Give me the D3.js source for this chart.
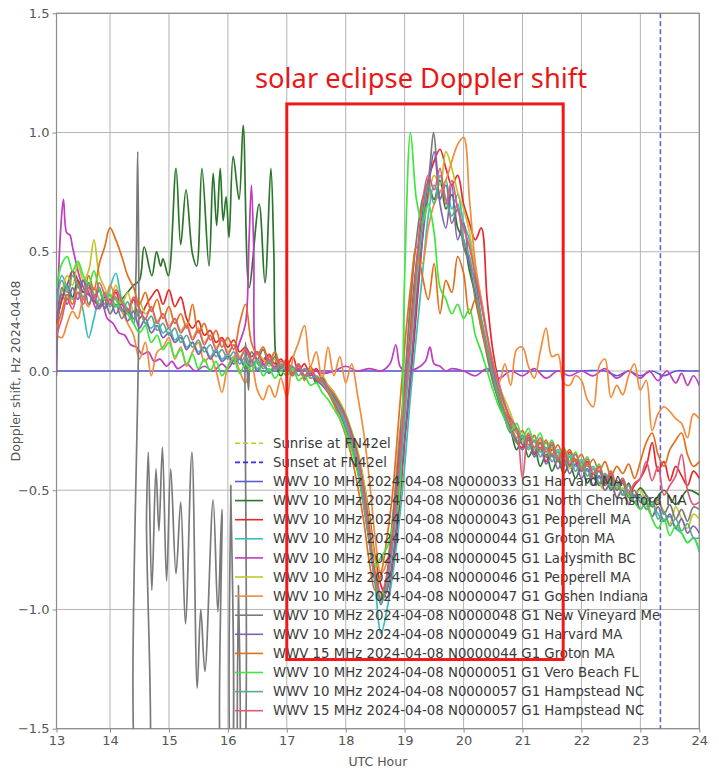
<!DOCTYPE html>
<html>
<head>
<meta charset="utf-8">
<script src="https://cdn.jsdelivr.net/npm/d3@7"></script>
<style>
body { margin: 0; background: #fff; }
svg { display: block; font-family: "DejaVu Sans", sans-serif; }
</style>
</head>
<body>
<svg id="svg" width="719" height="773"></svg>
<script>
// sample grid for the 0.1 h series, 13.0 .. 24.0
var hours = d3.range(0, 111).map(function(i) { return 13 + i / 10; });

var xTicks = [13, 14, 15, 16, 17, 18, 19, 20, 21, 22, 23, 24];
var yTicks = [-1.5, -1.0, -0.5, 0.0, 0.5, 1.0, 1.5];

var sunsetHour = 23.34;

// eclipse annotation box (hours, Hz)
var boxHours = [17.0, 21.69];
var boxHz = [-1.21, 1.12];
var boxLabel = "solar eclipse Doppler shift";

var legendNames = [
    "Sunrise at FN42el",
    "Sunset at FN42el",
    "WWV 10 MHz 2024-04-08 N0000033 G1 Harvard MA",
    "WWV 10 MHz 2024-04-08 N0000036 G1 North Chelmsford MA",
    "WWV 10 MHz 2024-04-08 N0000043 G1 Pepperell MA",
    "WWV 10 MHz 2024-04-08 N0000044 G1 Groton MA",
    "WWV 10 MHz 2024-04-08 N0000045 G1 Ladysmith BC",
    "WWV 10 MHz 2024-04-08 N0000046 G1 Pepperell MA",
    "WWV 10 MHz 2024-04-08 N0000047 G1 Goshen Indiana",
    "WWV 10 MHz 2024-04-08 N0000048 G1 New Vineyard Me",
    "WWV 10 MHz 2024-04-08 N0000049 G1 Harvard MA",
    "WWV 15 MHz 2024-04-08 N0000044 G1 Groton MA",
    "WWV 10 MHz 2024-04-08 N0000051 G1 Vero Beach FL",
    "WWV 10 MHz 2024-04-08 N0000057 G1 Hampstead NC",
    "WWV 15 MHz 2024-04-08 N0000057 G1 Hampstead NC"
];
var legendColors = ["#c8c81e", "#3232e6", "#5a5ad2", "#2c762c", "#e8262b", "#3cbcbc",
    "#c03cc0", "#c4c42c", "#f28c3c", "#7a7a7a", "#7e62b2", "#e0701e",
    "#3ce83c", "#5ea88c", "#e05a78"];

// N0000033 Harvard MA, [hour, Hz]
var harvard33 = [[13.0, 0], [14.0, 0], [15.0, 0], [16.0, 0], [17.0, 0], [18.0, 0], [19.0, 0],
    [20.0, 0], [21.0, 0], [22.0, 0], [22.4, 0], [22.6, -0.02], [22.8, 0], [23.0, -0.02],
    [23.2, 0], [23.4, -0.02], [23.6, 0], [23.8, 0], [24.0, 0]];

// N0000036 North Chelmsford MA, [hour, Hz]
var chelmsford36 = [[13.0,0.2],[13.1,0.3],[13.2,0.36],[13.3,0.31],[13.4,0.38],[13.5,0.33],[13.6,0.37],
    [13.7,0.30],[13.8,0.34],[13.9,0.28],[14.0,0.32],[14.1,0.27],[14.2,0.30],[14.3,0.33],[14.4,0.36],
    [14.5,0.38],[14.58,0.52],[14.71,0.40],[14.79,0.50],[14.86,0.44],[14.9,0.47],[14.99,0.40],
    [15.12,0.85],[15.2,0.53],[15.29,0.76],[15.4,0.49],[15.47,0.44],[15.56,0.85],[15.68,0.44],
    [15.75,0.83],[15.81,0.61],[15.87,0.85],[15.92,0.63],[15.97,0.73],[16.02,0.56],[16.09,0.90],
    [16.19,0.72],[16.26,1.03],[16.36,0.35],[16.53,0.70],[16.63,0.37],[16.73,0.85],[16.78,0.5],
    [16.83,0.02],[16.9,-0.02],[17.0,0.02],[17.1,-0.01],[17.2,0.02],[17.3,-0.02],[17.4,0.0],
    [17.5,-0.05],[17.6,-0.03],[17.7,-0.08],[17.8,-0.11],[17.9,-0.16],[18.0,-0.22],[18.1,-0.3],
    [18.2,-0.4],[18.3,-0.52],[18.4,-0.7],[18.5,-0.85],[18.6,-0.95],[18.7,-0.88],[18.8,-0.66],
    [18.9,-0.4],[19.0,-0.1],[19.1,0.2],[19.2,0.45],[19.3,0.65],[19.4,0.78],[19.5,0.72],[19.6,0.80],
    [19.7,0.68],[19.8,0.74],[19.9,0.60],[20.0,0.55],[20.1,0.42],[20.2,0.32],[20.3,0.2],[20.4,0.08],
    [20.5,-0.04],[20.6,-0.13],[20.7,-0.2],[20.8,-0.25],[20.9,-0.33],[21.0,-0.28],[21.1,-0.36],
    [21.2,-0.32],[21.3,-0.4],[21.4,-0.35],[21.5,-0.42],[21.6,-0.37],[21.7,-0.43],[21.8,-0.39],
    [21.9,-0.45],[22.0,-0.4],[22.1,-0.47],[22.2,-0.43],[22.3,-0.48],[22.4,-0.44],[22.5,-0.5],
    [22.6,-0.46],[22.7,-0.52],[22.8,-0.47],[22.9,-0.53],[23.0,-0.49],[23.2,-0.55],[23.4,-0.5],
    [23.6,-0.56],[23.8,-0.5],[24.0,-0.52]];

// N0000043 Pepperell MA, on the 0.1 h grid
var pepperell43 = [
    0.20,0.30,0.36,0.42,0.38,0.33,0.36,0.30,0.27,0.31,
    0.28,0.33,0.26,0.24,0.30,0.22,0.27,0.31,0.34,0.28,
    0.34,0.27,0.31,0.22,0.18,0.21,0.15,0.17,0.12,0.14,
    0.10,0.13,0.08,0.10,0.06,0.08,0.04,0.07,0.03,0.05,
    0.02,0.06,0.00,0.03,-0.02,0.01,-0.04,-0.06,-0.09,-0.14,
    -0.20,-0.26,-0.34,-0.46,-0.60,-0.78,-0.90,-0.95,-0.82,-0.60,
    -0.30,-0.05,0.25,0.55,0.80,0.88,0.93,0.85,0.78,0.82,
    0.70,0.62,0.55,0.60,0.30,0.08,-0.05,-0.14,-0.22,-0.30,
    -0.32,-0.28,-0.35,-0.30,-0.38,-0.33,-0.36,-0.40,-0.34,-0.38,
    -0.42,-0.38,-0.45,-0.40,-0.47,-0.43,-0.50,-0.46,-0.52,-0.48,
    -0.45,-0.40,-0.30,-0.42,-0.38,-0.46,-0.40,-0.44,-0.48,-0.42,
    -0.45];

// N0000044 Groton MA
var groton44 = [
    0.30,0.40,0.35,0.30,0.33,0.25,0.14,0.22,0.30,0.27,
    0.35,0.41,0.30,0.26,0.22,0.25,0.20,0.18,0.21,0.16,
    0.18,0.13,0.15,0.10,0.12,0.08,0.10,0.06,0.09,0.05,
    0.07,0.04,0.06,0.02,0.05,0.01,0.03,0.00,0.02,0.01,
    0.03,-0.01,0.02,-0.02,0.00,-0.03,-0.05,-0.08,-0.12,-0.16,
    -0.22,-0.30,-0.38,-0.50,-0.68,-0.90,-1.10,-1.00,-0.85,-0.65,
    -0.40,-0.10,0.15,0.40,0.65,0.78,0.72,0.80,0.68,0.74,
    0.62,0.55,0.40,0.30,0.15,0.02,-0.08,-0.15,-0.20,-0.26,
    -0.28,-0.32,-0.27,-0.34,-0.30,-0.36,-0.33,-0.38,-0.35,-0.40,
    -0.37,-0.42,-0.40,-0.45,-0.43,-0.48,-0.46,-0.52,-0.50,-0.55,
    -0.53,-0.58,-0.56,-0.60,-0.63,-0.61,-0.66,-0.68,-0.72,-0.70,
    -0.76];

// N0000045 Ladysmith BC, [hour, Hz]
var ladysmith45 = [[13.0,0],[13.03,0.35],[13.08,0.6],[13.13,0.72],[13.19,0.58],[13.25,0.57],
    [13.3,0.52],[13.38,0.44],[13.45,0.38],[13.55,0.33],[13.65,0.31],[13.75,0.26],[13.85,0.28],
    [13.95,0.22],[14.05,0.2],[14.15,0.16],[14.25,0.15],[14.35,0.11],[14.45,0.1],[14.55,0.07],
    [14.65,0.08],[14.75,0.04],[14.85,0.05],[14.96,0.02],[15.05,0.04],[15.15,0.01],[15.3,0.03],
    [15.45,0.0],[15.6,0.02],[15.75,0.0],[15.9,0.03],[16.0,0.01],[16.1,0.05],[16.2,0.12],
    [16.3,0.2],[16.36,0.55],[16.4,0.78],[16.44,0.5],[16.48,0.05],[16.55,0.02],[16.65,0.06],
    [16.8,0.01],[17.0,0.03],[17.2,0.0],[17.4,0.01],[17.6,-0.01],[17.8,0.0],[18.0,0.02],[18.2,0.0],
    [18.4,0.01],[18.6,0.0],[18.75,0.03],[18.85,0.11],[18.92,0.02],[19.0,0.0],[19.2,0.01],
    [19.35,0.04],[19.43,0.1],[19.5,0.03],[19.6,0.02],[19.7,0.0],[19.8,0.01],[20.0,0.0],
    [20.2,-0.02],[20.4,0.01],[20.6,-0.03],[20.8,0.0],[21.0,-0.02],[21.2,0.01],[21.4,-0.03],
    [21.6,0.0],[21.8,-0.02],[22.0,0.0],[22.2,-0.02],[22.4,0.01],[22.6,-0.03],[22.8,0.0],
    [23.0,-0.03],[23.15,0.0],[23.3,-0.04],[23.45,0.0],[23.6,-0.05],[23.7,-0.01],[23.8,-0.06],
    [23.9,-0.02],[24.0,-0.06]];

// N0000046 Pepperell MA
var pepperell46 = [
    0.25,0.33,0.40,0.36,0.45,0.38,0.42,0.55,0.40,0.35,
    0.30,0.36,0.28,0.33,0.25,0.29,0.24,0.26,0.21,0.24,
    0.19,0.22,0.17,0.20,0.14,0.18,0.12,0.15,0.10,0.13,
    0.08,0.11,0.06,0.09,0.04,0.07,0.05,0.02,0.05,0.01,
    0.03,0.00,0.02,-0.02,0.01,-0.03,-0.02,-0.06,-0.09,-0.13,
    -0.18,-0.25,-0.33,-0.45,-0.62,-0.80,-0.95,-0.88,-0.70,-0.45,
    -0.15,0.10,0.35,0.60,0.72,0.82,0.78,0.92,0.85,0.75,
    0.68,0.58,0.42,0.28,0.14,0.04,-0.06,-0.12,-0.18,-0.25,
    -0.30,-0.26,-0.33,-0.29,-0.36,-0.32,-0.38,-0.35,-0.41,-0.37,
    -0.40,-0.44,-0.41,-0.47,-0.50,-0.46,-0.53,-0.49,-0.55,-0.52,
    -0.50,-0.56,-0.61,-0.55,-0.59,-0.64,-0.57,-0.62,-0.66,-0.60,
    -0.62];

// N0000047 Goshen Indiana
var goshen47 = [
    0.15,0.14,0.20,0.25,0.22,0.30,0.27,0.35,0.30,0.28,
    0.36,0.30,0.25,0.20,0.15,0.05,0.12,-0.02,0.08,0.10,
    0.14,0.05,0.10,0.02,0.08,0.12,0.04,0.06,0.00,-0.09,
    0.02,0.06,0.00,-0.05,0.03,-0.08,-0.12,-0.06,-0.11,-0.03,
    -0.11,0.05,0.12,0.19,0.02,0.08,-0.04,0.10,-0.02,0.06,
    -0.05,0.03,-0.10,-0.25,-0.45,-0.70,-0.85,-0.80,-0.60,-0.30,
    -0.05,0.25,0.52,0.45,0.60,0.70,0.75,0.80,0.88,0.95,
    0.98,0.72,0.45,0.30,0.15,0.02,-0.05,0.03,-0.06,0.09,
    0.10,0.02,-0.03,0.08,0.18,0.06,0.07,-0.05,-0.06,-0.02,
    -0.04,-0.12,-0.15,0.02,0.05,-0.11,-0.06,-0.10,-0.02,0.03,
    -0.08,-0.04,-0.25,-0.18,-0.15,-0.17,-0.20,-0.22,-0.28,-0.18,
    -0.20];

// N0000048 New Vineyard Me, [hour, Hz]
var vineyard48 = [[13.0,-0.02],[13.03,0.2],[13.1,0.35],[13.2,0.30],[13.3,0.42],[13.4,0.35],
    [13.5,0.38],[13.6,0.28],[13.7,0.32],[13.8,0.26],[13.9,0.30],[14.0,0.24],[14.1,0.28],
    [14.2,0.22],[14.3,0.26],[14.4,0.20],[14.44,0.4],[14.47,0.92],[14.49,0.3],[14.51,-1.8],
    [14.6,-1.8],[14.62,-0.6],[14.65,-0.34],[14.71,-0.92],[14.78,-0.41],[14.83,-0.67],
    [14.89,-0.32],[14.96,-0.88],[15.03,-0.41],[15.12,-0.85],[15.2,-0.55],[15.28,-1.06],
    [15.39,-0.34],[15.48,-1.33],[15.54,-1.0],[15.61,-1.26],[15.75,-0.54],[15.83,-1.01],
    [15.9,-0.58],[15.94,-1.8],[16.01,-1.8],[16.05,-0.48],[16.1,-1.8],[16.15,-1.8],
    [16.18,-0.9],[16.21,-1.8],[16.24,-1.8],[16.3,0.12],[16.35,-0.08],[16.4,0.08],[16.5,0.05],
    [16.6,0.09],[16.7,0.03],[16.8,0.06],[16.9,0.01],[17.0,0.04],[17.1,-0.01],[17.2,0.02],
    [17.3,-0.02],[17.4,0.0],[17.5,-0.04],[17.6,-0.03],[17.7,-0.07],[17.8,-0.1],[17.9,-0.14],
    [18.0,-0.19],[18.1,-0.26],[18.2,-0.35],[18.3,-0.48],[18.4,-0.66],[18.5,-0.88],[18.6,-0.98],
    [18.7,-0.85],[18.8,-0.62],[18.9,-0.35],[19.0,-0.05],[19.1,0.3],[19.2,0.55],[19.3,0.72],
    [19.4,0.80],[19.49,1.0],[19.55,0.85],[19.6,0.72],[19.7,0.78],[19.8,0.62],[19.9,0.68],
    [20.0,0.52],[20.1,0.45],[20.2,0.30],[20.3,0.18],[20.4,0.06],[20.5,-0.05],[20.6,-0.12],
    [20.7,-0.2],[20.8,-0.26],[20.9,-0.24],[21.0,-0.31],[21.1,-0.27],[21.2,-0.34],[21.3,-0.30],
    [21.4,-0.36],[21.5,-0.31],[21.6,-0.38],[21.7,-0.34],[21.8,-0.40],[21.9,-0.37],[22.0,-0.42],
    [22.1,-0.39],[22.2,-0.45],[22.3,-0.42],[22.4,-0.48],[22.5,-0.45],[22.6,-0.50],[22.7,-0.47],
    [22.8,-0.53],[22.9,-0.50],[23.0,-0.55],[23.1,-0.52],[23.2,-0.57],[23.3,-0.54],[23.4,-0.60],
    [23.5,-0.56],[23.6,-0.62],[23.7,-0.58],[23.8,-0.63],[23.9,-0.57],[24.0,-0.58]];

// N0000049 Harvard MA
var harvard49 = [
    0.22,0.32,0.28,0.35,0.30,0.38,0.33,0.29,0.35,0.26,
    0.30,0.24,0.28,0.21,0.25,0.18,0.22,0.16,0.19,0.14,
    0.16,0.12,0.14,0.09,0.12,0.07,0.10,0.05,0.08,0.04,
    0.06,0.03,0.05,0.01,0.04,0.00,0.03,-0.01,0.02,0.00,
    0.01,-0.02,0.01,-0.03,-0.01,-0.04,-0.06,-0.09,-0.13,-0.18,
    -0.24,-0.32,-0.42,-0.56,-0.72,-0.88,-0.96,-0.92,-0.78,-0.55,
    -0.28,0.00,0.30,0.55,0.75,0.92,0.70,0.60,0.78,0.55,
    0.62,0.45,0.38,0.22,0.10,0.00,-0.10,-0.18,-0.24,-0.29,
    -0.33,-0.29,-0.36,-0.32,-0.39,-0.35,-0.41,-0.37,-0.43,-0.39,
    -0.45,-0.41,-0.48,-0.44,-0.50,-0.47,-0.53,-0.50,-0.56,-0.52,
    -0.58,-0.55,-0.61,-0.57,-0.63,-0.60,-0.66,-0.62,-0.68,-0.65,
    -0.68];

// 15 MHz N0000044 Groton MA
var groton44b = [
    0.18,0.25,0.32,0.28,0.36,0.30,0.40,0.34,0.45,0.52,
    0.60,0.55,0.48,0.40,0.35,0.28,0.33,0.25,0.30,0.22,
    0.27,0.20,0.24,0.18,0.28,0.16,0.20,0.13,0.17,0.10,
    0.14,0.09,0.20,0.28,0.12,0.07,0.10,0.04,0.08,0.02,
    0.05,-0.02,0.03,-0.04,0.02,-0.03,-0.05,-0.09,-0.14,-0.20,
    -0.27,-0.36,-0.48,-0.62,-0.80,-0.92,-0.85,-0.70,-0.50,-0.20,
    0.10,0.35,0.52,0.40,0.30,0.45,0.24,0.38,0.33,0.48,
    0.41,0.24,0.30,0.18,0.08,-0.02,-0.10,-0.17,-0.22,-0.28,
    -0.25,-0.31,-0.27,-0.33,-0.29,-0.35,-0.31,-0.36,-0.33,-0.38,
    -0.35,-0.40,-0.37,-0.42,-0.38,-0.44,-0.40,-0.43,-0.39,-0.45,
    -0.38,-0.30,-0.26,-0.35,-0.40,-0.33,-0.29,-0.26,-0.35,-0.40,
    -0.38];

// N0000051 Vero Beach FL
var vero51 = [
    0.35,0.45,0.48,0.42,0.46,0.40,0.36,0.42,0.34,0.30,
    0.32,0.27,0.30,0.24,0.20,0.16,0.19,0.12,0.15,0.09,
    0.12,0.06,0.09,0.03,0.07,0.01,0.05,0.00,0.04,-0.02,
    0.02,0.05,-0.01,0.03,0.00,0.04,-0.02,0.01,-0.03,0.00,
    -0.02,0.01,-0.04,-0.02,-0.06,-0.05,-0.09,-0.12,-0.16,-0.20,
    -0.26,-0.33,-0.42,-0.55,-0.70,-0.82,-0.78,-0.74,-0.65,-0.55,
    0.40,1.00,0.72,0.62,0.70,0.58,0.35,0.30,0.24,0.28,
    0.22,0.26,0.15,0.08,0.00,-0.08,-0.15,-0.20,-0.25,-0.22,
    -0.28,-0.24,-0.30,-0.26,-0.33,-0.29,-0.36,-0.32,-0.38,-0.34,
    -0.40,-0.36,-0.43,-0.39,-0.46,-0.42,-0.49,-0.45,-0.52,-0.55,
    -0.58,-0.54,-0.62,-0.66,-0.62,-0.69,-0.65,-0.68,-0.72,-0.70,
    -0.75];

// N0000057 Hampstead NC
var hampstead57 = [
    0.28,0.38,0.33,0.40,0.36,0.31,0.37,0.32,0.28,0.33,
    0.27,0.31,0.25,0.29,0.22,0.26,0.20,0.23,0.17,0.20,
    0.15,0.18,0.12,0.15,0.10,0.13,0.08,0.11,0.06,0.09,
    0.05,0.08,0.03,0.06,0.02,0.05,0.01,0.04,0.00,0.03,
    0.00,0.02,-0.02,0.01,-0.03,-0.02,-0.05,-0.08,-0.12,-0.17,
    -0.23,-0.31,-0.40,-0.54,-0.72,-0.88,-0.97,-0.90,-0.72,-0.48,
    -0.20,0.10,0.40,0.62,0.78,0.70,0.82,0.72,0.65,0.70,
    0.55,0.48,0.35,0.22,0.10,-0.02,-0.12,-0.19,-0.25,-0.30,
    -0.27,-0.33,-0.29,-0.36,-0.32,-0.38,-0.34,-0.40,-0.36,-0.42,
    -0.38,-0.44,-0.41,-0.47,-0.43,-0.49,-0.46,-0.52,-0.48,-0.55,
    -0.52,-0.58,-0.55,-0.62,-0.59,-0.65,-0.62,-0.67,-0.64,-0.70,
    -0.70];

// 15 MHz N0000057 Hampstead NC
var hampstead57b = [
    0.15,0.22,0.30,0.26,0.33,0.28,0.35,0.30,0.37,0.32,
    0.28,0.34,0.29,0.25,0.31,0.26,0.22,0.27,0.20,0.24,
    0.18,0.22,0.16,0.19,0.13,0.17,0.11,0.15,0.09,0.13,
    0.07,0.11,0.05,0.09,0.04,0.08,0.02,0.06,0.01,0.04,
    0.02,-0.01,0.03,-0.02,0.00,-0.03,-0.04,-0.07,-0.10,-0.15,
    -0.20,-0.28,-0.36,-0.50,-0.68,-0.85,-0.93,-0.86,-0.68,-0.42,
    -0.12,0.15,0.45,0.70,0.82,0.76,0.85,0.70,0.80,0.68,
    0.60,0.52,0.40,0.28,0.15,0.03,-0.06,-0.14,-0.20,-0.24,
    -0.45,-0.26,-0.32,-0.28,-0.34,-0.30,-0.37,-0.33,-0.39,-0.35,
    -0.41,-0.37,-0.43,-0.40,-0.46,-0.42,-0.48,-0.45,-0.51,-0.47,
    -0.45,-0.38,-0.46,-0.40,-0.52,-0.48,-0.44,-0.35,-0.50,-0.56,
    -0.55];

//////////////////////////////////////////////////////////////////////////////

function onGrid(vals) {
    return hours.map(function(h, i) { return [h, vals[i]]; });
}

// same order as the legend, later ones drawn on top
var series = [
    harvard33, chelmsford36, onGrid(pepperell43), onGrid(groton44), ladysmith45,
    onGrid(pepperell46), onGrid(goshen47), vineyard48, onGrid(harvard49),
    onGrid(groton44b), onGrid(vero51), onGrid(hampstead57), onGrid(hampstead57b)
];

var svg = d3.select("#svg");

// the left hour of the original plot is a little narrower than the rest
var x = d3.scaleLinear().domain([13, 14, 24]).range([56.5, 110, 699.3]);
var y = d3.scaleLinear().domain([-1.5, 1.5]).range([728.7, 13.3]);

var gridColor = "#b4b4b4";
var spineColor = "#8c8c8c";
var tickText = "#555";

svg.append("clipPath").attr("id", "plotclip")
    .append("rect")
    .attr("x", x(13)).attr("y", y(1.5))
    .attr("width", x(24) - x(13)).attr("height", y(-1.5) - y(1.5));

// grid
svg.append("g").selectAll("line").data(xTicks).enter().append("line")
    .attr("x1", function(d) { return x(d); }).attr("x2", function(d) { return x(d); })
    .attr("y1", y(1.5)).attr("y2", y(-1.5))
    .attr("stroke", gridColor).attr("stroke-width", 1);
svg.append("g").selectAll("line").data(yTicks).enter().append("line")
    .attr("x1", x(13)).attr("x2", x(24))
    .attr("y1", function(d) { return y(d); }).attr("y2", function(d) { return y(d); })
    .attr("stroke", gridColor).attr("stroke-width", 1);

// axes
var xAxis = svg.append("g").attr("transform", "translate(0," + y(-1.5) + ")")
    .call(d3.axisBottom(x).tickValues(xTicks).tickFormat(d3.format("d")).tickSize(4).tickPadding(3));
var yAxis = svg.append("g").attr("transform", "translate(" + x(13) + ",0)")
    .call(d3.axisLeft(y).tickValues(yTicks).tickFormat(d3.format(".1f")).tickSize(4).tickPadding(3));
[xAxis, yAxis].forEach(function(ax) {
    ax.select(".domain").remove();
    ax.selectAll(".tick line").attr("stroke", spineColor);
    ax.selectAll(".tick text").attr("fill", tickText)
        .style("font-size", "13px").style("font-family", "DejaVu Sans, sans-serif");
});

// spines
svg.append("rect")
    .attr("x", x(13)).attr("y", y(1.5))
    .attr("width", x(24) - x(13)).attr("height", y(-1.5) - y(1.5))
    .attr("fill", "none").attr("stroke", spineColor).attr("stroke-width", 1.2);

svg.append("text")
    .attr("x", (x(13) + x(24)) / 2).attr("y", 766)
    .attr("text-anchor", "middle").attr("fill", tickText)
    .style("font-size", "12.5px")
    .text("UTC Hour");
svg.append("text")
    .attr("transform", "translate(20," + y(0) + ") rotate(-90)")
    .attr("text-anchor", "middle").attr("fill", tickText)
    .style("font-size", "12.5px")
    .text("Doppler shift, Hz 2024-04-08");

var plot = svg.append("g").attr("clip-path", "url(#plotclip)");

// sunset marker
plot.append("line")
    .attr("x1", x(sunsetHour)).attr("x2", x(sunsetHour))
    .attr("y1", y(1.5)).attr("y2", y(-1.5))
    .attr("stroke", "#5a5ae0").attr("stroke-width", 1.5)
    .attr("stroke-dasharray", "5,3");

var line = d3.line()
    .x(function(d) { return x(d[0]); })
    .y(function(d) { return y(d[1]); })
    .curve(d3.curveCatmullRom.alpha(0.5));

plot.selectAll("path.trace").data(series).enter().append("path")
    .attr("class", "trace")
    .attr("d", line)
    .attr("fill", "none")
    .attr("stroke", function(d, i) { return legendColors[i + 2]; })
    .attr("stroke-width", 1.7)
    .attr("stroke-linejoin", "round");

// legend (no frame)
var legendX = 235, legendY = 443.3, legendStep = 19.1;
var lg = svg.append("g");
legendNames.forEach(function(name, i) {
    var yy = legendY + i * legendStep;
    lg.append("line")
        .attr("x1", legendX).attr("x2", legendX + 28)
        .attr("y1", yy).attr("y2", yy)
        .attr("stroke", legendColors[i]).attr("stroke-width", 1.6)
        .attr("stroke-dasharray", i < 2 ? "5,3" : null);
    lg.append("text")
        .attr("x", legendX + 38).attr("y", yy + 4.6)
        .attr("fill", "#3a3a3a")
        .style("font-size", "13.3px")
        .text(name);
});

// eclipse annotation
svg.append("rect")
    .attr("x", x(boxHours[0])).attr("y", y(boxHz[1]))
    .attr("width", x(boxHours[1]) - x(boxHours[0]))
    .attr("height", y(boxHz[0]) - y(boxHz[1]))
    .attr("fill", "none").attr("stroke", "#f01818").attr("stroke-width", 3);
svg.append("text")
    .attr("x", 255).attr("y", 88)
    .attr("fill", "#e81818")
    .attr("textLength", 332).attr("lengthAdjust", "spacingAndGlyphs")
    .style("font-family", "Noto Sans, sans-serif")
    .style("font-size", "27px")
    .text(boxLabel);
</script>
</body>
</html>
